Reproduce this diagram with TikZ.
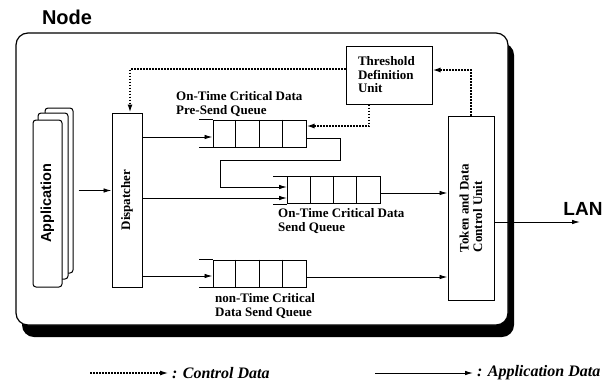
\documentclass[tikz,border=0pt]{standalone}
\usepackage{fontspec}
\setmainfont{Liberation Serif}
\newfontfamily\headfont{Liberation Sans}
\usetikzlibrary{arrows.meta}

\begin{document}
\begin{tikzpicture}[x=1pt,y=-1pt,
    every node/.style={inner sep=0pt},
    lbl/.style={font=\fontsize{13}{13.5}\selectfont\bfseries, align=left},
    head/.style={font=\headfont\fontsize{#1}{#1}\selectfont\bfseries},
    key/.style={font=\fontsize{16}{16}\selectfont\bfseries\itshape},
    unitbox/.style={draw, line width=1pt, fill=white},
    card/.style={draw, line width=1pt, fill=white, rounded corners=3pt},
    queuebox/.style={draw, line width=1pt, minimum width=93pt, minimum height=27pt},
    data/.style={line width=0.9pt, -{Latex[length=8pt,width=4.5pt]}},
    ctrl/.style={line width=1.5pt, dash pattern=on 1.5pt off 1.5pt, -{Latex[length=8pt,width=5pt]}}]
\useasboundingbox (0,0) rectangle (615,386);

% the node frame and its shadow
\fill[rounded corners=12pt] (22,43) rectangle (514,337);
\draw[line width=1.2pt, fill=white, rounded corners=12pt] (16,33) rectangle (508,325);
\node[head=20] (title) at (67,17) {Node};

% stack of applications
\node[card, minimum width=28pt, minimum height=165pt] (appback) at (59,190.5) {};
\node[card, minimum width=30pt, minimum height=166pt] (appmid) at (53,196) {};
\node[card, minimum width=29pt, minimum height=167pt] (app) at (47.5,203.5) {};
\node[head=14.5, rotate=90] at (app) {Application};

% dispatcher, threshold unit, token unit
\node[unitbox, minimum width=30pt, minimum height=174pt] (disp) at (127,200) {};
\node[lbl, rotate=90] at (disp) {Dispatcher};
\node[unitbox, lbl, minimum width=86pt, minimum height=58pt, text width=62pt] (thresh) at (389,75) {Threshold\\Definition\\Unit};
\node[unitbox, minimum width=46pt, minimum height=184pt] (tdcu) at (471,208) {};
\node[lbl, rotate=90] at (tdcu) {Token and Data\\Control Unit};

% queues
\node[queuebox] (presend) at (259.5,133.5) {};
\node[queuebox] (send) at (334,190) {};
\node[queuebox] (nontime) at (259.5,273.5) {};
\foreach \q in {presend,send,nontime} {
  \foreach \i in {1,2,3}
    \draw[line width=1pt] ([xshift=\i*23.25pt]\q.north west) -- ([xshift=\i*23.25pt]\q.south west);
  \draw[line width=1pt] (\q.north west) -- ++(-14,0) (\q.south west) -- ++(-14,0);
}
\node[lbl, anchor=west] (presendlbl) at (176,104) {On-Time Critical Data\\Pre-Send Queue};
\node[lbl, anchor=west] (sendlbl) at (278,221) {On-Time Critical Data\\Send Queue};
\node[lbl, anchor=west] (nontimelbl) at (215,306) {non-Time Critical\\Data Send Queue};

% application data
\coordinate (inpre) at ([yshift=-3.5pt]presend.west);
\coordinate (outpre) at ([yshift=-4.5pt]presend.east);
\coordinate (inloop) at ([yshift=3pt]send.west);
\coordinate (indisp) at ([yshift=-8pt]send.west);
\coordinate (outsend) at ([yshift=-3pt]send.east);
\coordinate (innon) at ([yshift=-2.5pt]nontime.west);
\coordinate (outnon) at ([yshift=-3.5pt]nontime.east);
\draw[data] ([xshift=5pt]appback.east) -- (disp.west |- appback.east);
\draw[data] (disp.east |- inpre) -- (inpre);
\draw[data] (disp.east |- indisp) -- (indisp);
\draw[data] (disp.east |- innon) -- (innon);
\draw[data] (outpre) -- ++(34,0) |- (220,160) |- (inloop);
\draw[data] (outsend) -- (outsend -| tdcu.west);
\draw[data] (outnon) -- (outnon -| tdcu.west);
\node[head=19] (lanlbl) at (583,209) {LAN};
\coordinate (lanend) at (580,222);
\draw[data] (tdcu.east |- lanend) -- (lanend);

% control data
\draw[ctrl] ([yshift=6pt]thresh.west) -| ([xshift=3pt]disp.north);
\draw[ctrl] ([xshift=-20pt]thresh.south) |- ([yshift=7.5pt]presend.east);
\draw[ctrl] (tdcu.north) |- ([yshift=5pt]thresh.east);

% legend
\node[key, anchor=west] (ctrlkey) at (172,373) {: Control Data};
\node[key, anchor=west] (datakey) at (477,373) {: Application Data};
\coordinate (ctrlstart) at (90,373);
\coordinate (datastart) at (375,373);
\draw[ctrl, line width=1.1pt] (ctrlstart) -- ([xshift=-4pt]ctrlkey.west);
\draw[data] (datastart) -- ([xshift=-4pt]datakey.west);
\end{tikzpicture}
\end{document}
